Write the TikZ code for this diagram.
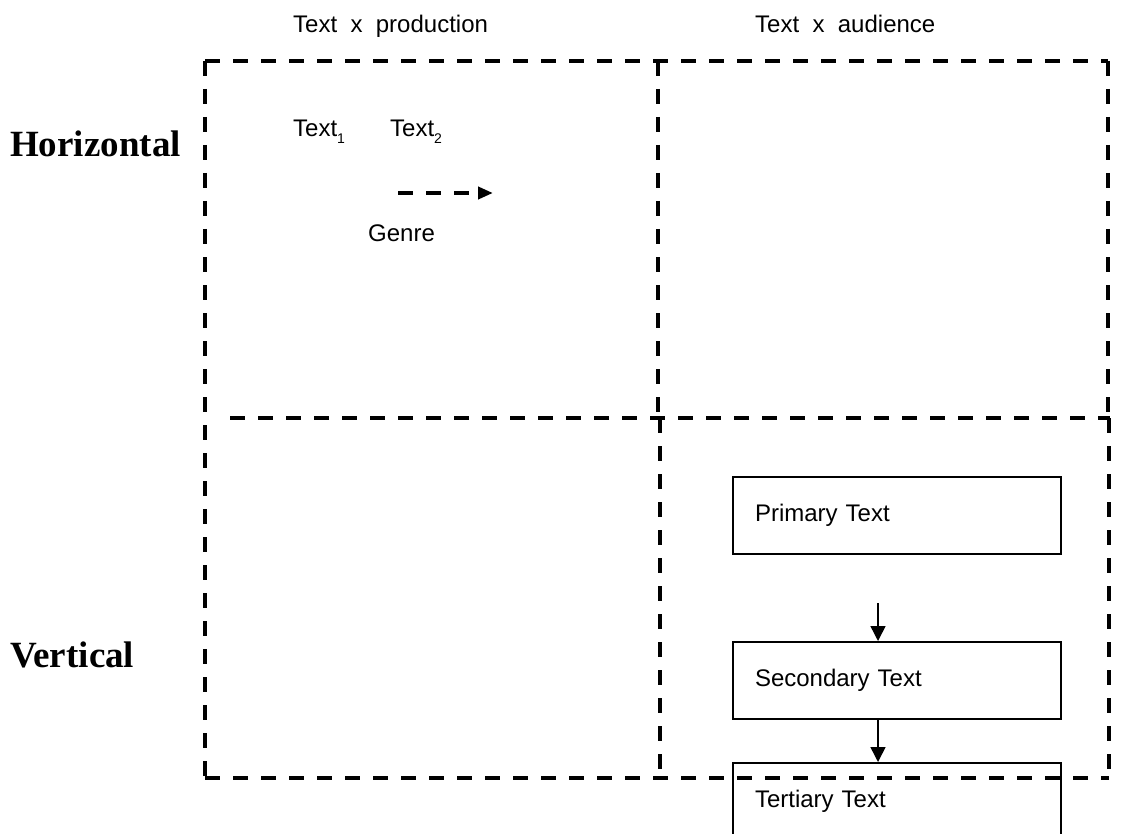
\documentclass[tikz,border=0pt]{standalone}
\usepackage{fontspec}
\setmainfont{Liberation Sans}
\newfontfamily\timesf{Liberation Serif}
\usetikzlibrary{arrows.meta}
\newcommand{\subnum}[1]{\raisebox{-7pt}{\fontsize{14}{14}\selectfont #1}}
\begin{document}
\begin{tikzpicture}[x=1pt,y=-1pt,
  quad/.style={draw, line width=3.5pt, dash pattern=on 15pt off 13pt},
  lbl/.style={inner sep=0pt, anchor=base west, font=\fontsize{24}{28}\selectfont},
  side/.style={inner sep=0pt, anchor=base west, font=\timesf\bfseries\fontsize{37}{40}\selectfont},
  textbox/.style={draw, line width=2pt, minimum height=77pt, text width=284pt, inner xsep=22pt, inner ysep=0pt, align=left, font=\fontsize{24}{28}\selectfont},
  conn/.style={line width=1.5pt, -{Triangle[length=15pt,width=15pt]}},
  genrearrow/.style={line width=4pt, dash pattern=on 15pt off 13pt, -{Triangle[length=15pt,width=12pt]}},
]
\clip (0,0) rectangle (1123,834);
\fill[white] (0,0) rectangle (1123,834);

% quadrant frame (each segment drawn once)
\draw[quad] (205,61) -- (1108,61);
\draw[quad] (205,61) -- (205,778);
\draw[quad] (205,778) -- (1109,778);
\draw[quad] (1108,61) -- (1108,418);
\draw[quad] (1109,418) -- (1109,778);
\draw[quad] (658,61) -- (658,418);
\draw[quad] (660,418) -- (660,778);
\draw[quad] (230,418) -- (1110,418);

% headers
\node[lbl] (hprod) at (293,33) {Text\ \ x\ \ production};
\node[lbl] (haud) at (755,33) {Text\ \ x\ \ audience};

% side labels
\node[side] (horiz) at (10,157) {Horizontal};
\node[side] (vert) at (10,667) {Vertical};

% top-left content
\node[lbl] (t1) at (293,137) {Text\subnum{1}};
\node[lbl] (t2) at (390,137) {Text\subnum{2}};
\coordinate (g1) at (398,193);
\coordinate (g2) at (493,193);
\draw[genrearrow] (g1) -- (g2);
\node[lbl] (genre) at (368,241) {Genre};

% boxes
\node[textbox] (prim) at (897,515.5) {Primary Text};
\node[textbox] (sec) at (897,680.5) {Secondary Text};
\node[textbox] (ter) at (897,801.5) {Tertiary Text};

\coordinate (a1) at (878,603);
\draw[conn] (a1) -- (a1 |- sec.north);
\draw[conn] (a1 |- sec.south) -- (a1 |- ter.north);
\end{tikzpicture}
\end{document}
